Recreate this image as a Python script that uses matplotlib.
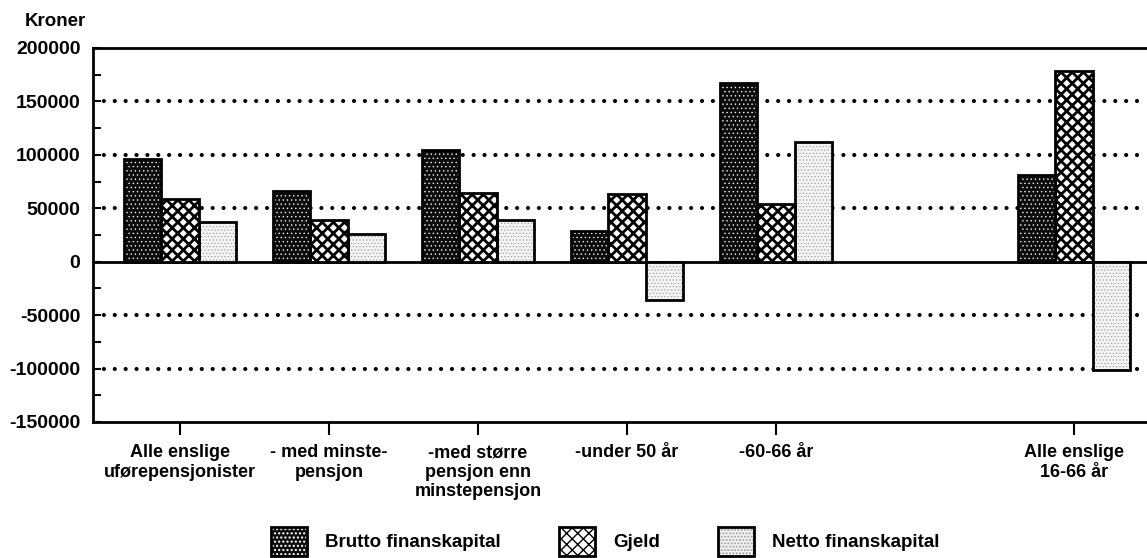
import matplotlib
matplotlib.use("Agg")
import matplotlib.pyplot as plt
import numpy as np
from matplotlib.legend_handler import HandlerTuple
from matplotlib.ticker import MultipleLocator

categories = ["Alle enslige\nuførepensjonister", "- med minste-\npensjon",
              "-med større\npensjon enn\nminstepensjon", "-under 50 år",
              "-60-66 år", "Alle enslige\n16-66 år"]
group_pos = [0, 1, 2, 3, 4, 6]
brutto = [96000, 66000, 104500, 28500, 167500, 81500]
gjeld = [59000, 39000, 64500, 63000, 54000, 178500]
netto = [37500, 26000, 39500, -35500, 112500, -101000]
series_names = ["Brutto finanskapital", "Gjeld", "Netto finanskapital"]
ytick_vals = [-150000, -100000, -50000, 0, 50000, 100000, 150000, 200000]

plt.rcParams['font.family'] = ['Liberation Sans', 'DejaVu Sans']
plt.rcParams['font.weight'] = 'bold'

fig = plt.figure(figsize=(11.47, 5.58), dpi=100)
ax = fig.add_axes([93/1147, 1-422/558, 1-93/1147, (422-48)/558])

x = np.array(group_pos, dtype=float)
w = 0.25
styles = [
    dict(face='#0c0c0c', hatchcol='white', hatch='....', hlw=0.45),
    dict(face='white', hatchcol='black', hatch='xxx', hlw=2.0),
    dict(face='#f4f4f4', hatchcol='#a0a0a0', hatch='.....', hlw=0.5),
]
handles = []
for i, (vals, st) in enumerate(zip([brutto, gjeld, netto], styles)):
    xs = x + (i - 1) * w
    with plt.rc_context({'hatch.linewidth': st['hlw']}):
        fill = ax.bar(xs, vals, w, color=st['face'], edgecolor=st['hatchcol'],
                      hatch=st['hatch'], linewidth=0, zorder=3)
    outline = ax.bar(xs, vals, w, fill=False, edgecolor='black', linewidth=2, zorder=4)
    handles.append((fill[0], outline[0]))

ax.set_xlim(-0.584, 6.49)
ax.set_ylim(-150000, 200000)
ax.set_yticks(ytick_vals)
ax.set_yticklabels([str(v) for v in ytick_vals], fontsize=14)
ax.yaxis.set_minor_locator(MultipleLocator(25000))
ax.tick_params(axis='y', which='major', direction='in', length=6, width=1.5, pad=9)
ax.tick_params(axis='y', which='minor', direction='in', length=6, width=1.5)
ax.set_xticks(group_pos)
ax.set_xticklabels(categories, fontsize=13, linespacing=1.2)
ax.tick_params(axis='x', direction='out', length=9, width=1.5, pad=7)

for v in ytick_vals:
    if v in (0, 200000, -150000):
        continue
    ax.axhline(v, color='black', linewidth=3, linestyle=(0, (0.01, 2.6)),
               dash_capstyle='round', zorder=1)
ax.axhline(0, color='black', linewidth=2, zorder=2)

for s in ['left', 'top', 'bottom']:
    ax.spines[s].set_linewidth(2)
ax.spines['right'].set_visible(False)

fig.text(25/1147, 1-22/558, "Kroner", fontsize=13.5, ha='left', va='center')

fig.legend(handles, series_names, handler_map={tuple: HandlerTuple(ndivide=1, pad=0)},
           ncol=3, loc='upper left', bbox_to_anchor=(271/1147, 1-527/558),
           frameon=False, fontsize=13.5, handlelength=1.92, handleheight=2.0,
           handletextpad=0.96, columnspacing=3.1, borderpad=0, borderaxespad=0)

fig.savefig("out.png", dpi=100)
